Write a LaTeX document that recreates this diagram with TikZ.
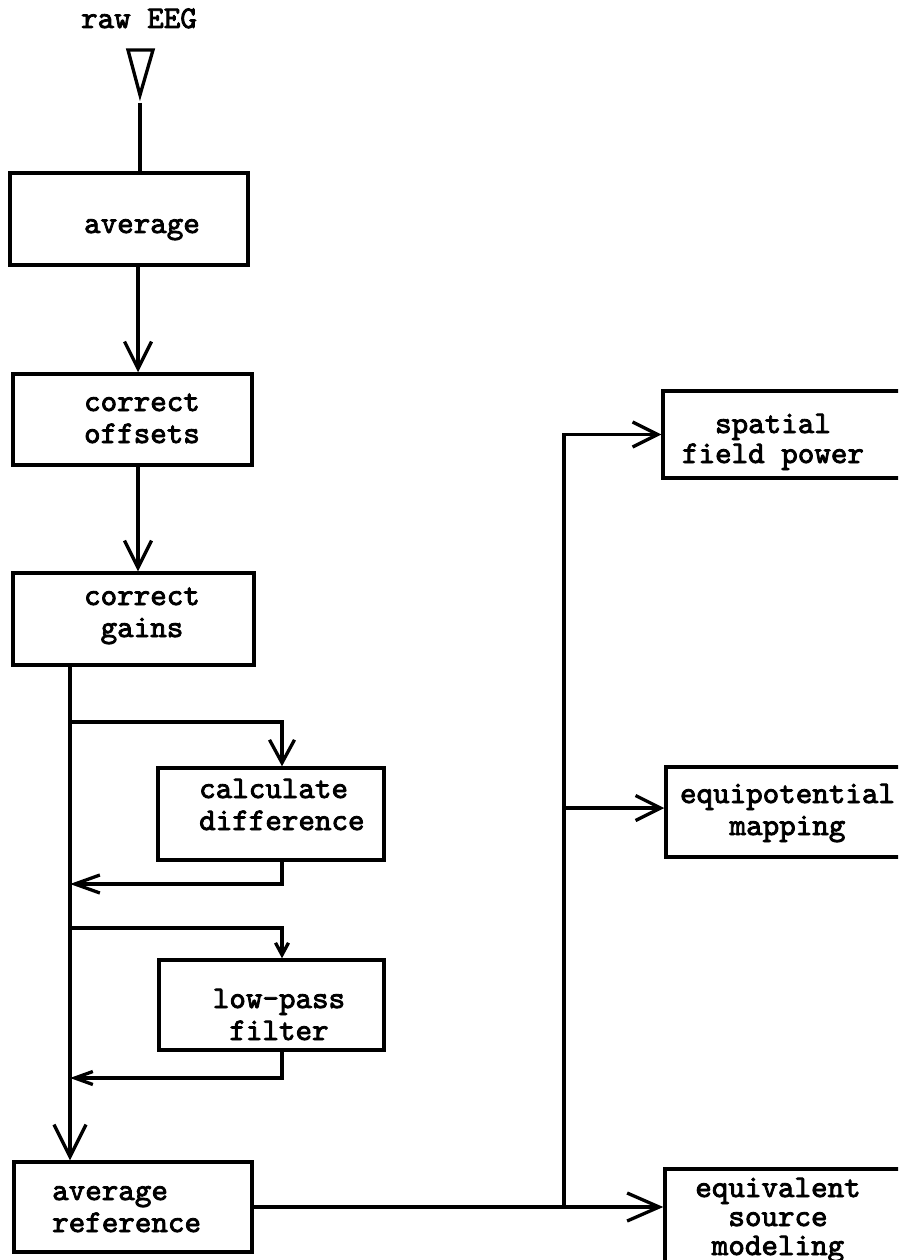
\documentclass[tikz,border=0pt]{standalone}
\usepackage{fontspec}
\newfontfamily\tw[FakeBold=2.6]{lmmono10-regular.otf}
\usetikzlibrary{arrows.meta}
\begin{document}
\begin{tikzpicture}[x=1pt,y=-1pt,
  ln/.style={line width=3.3pt},
  bx/.style={draw, line width=3.5pt, inner sep=0pt},
  tx/.style={font=\tw\fontsize{31.5}{32}\selectfont, inner sep=0pt, anchor=base},
  txn/.style={font=\tw\fontsize{31.5}{#1}\selectfont},
  arr/.style 2 args={-{Straight Barb[length=#1, width=#2]}}]
\useasboundingbox (0,0) rectangle (898,1260);
\clip (0,0) rectangle (898,1260);
% boxes
\node[bx, minimum width=238pt, minimum height=92pt] (avg) at (129,219) {};
\node[bx, minimum width=239pt, minimum height=91pt] (offs) at (132.5,419.5) {};
\node[bx, minimum width=241pt, minimum height=92pt] (gains) at (133.5,619) {};
\node[bx, minimum width=226pt, minimum height=92pt] (calc) at (271,814) {};
\node[bx, minimum width=225pt, minimum height=90pt] (lp) at (271.5,1005) {};
\node[bx, minimum width=238pt, minimum height=90pt] (avgref) at (133,1207) {};
\node[bx, minimum width=267pt, minimum height=87pt] (spatial) at (796.5,434.5) {};
\node[bx, minimum width=264pt, minimum height=90pt] (equip) at (798,812) {};
\node[bx, minimum width=265pt, minimum height=131pt] (equiv) at (797.5,1234.5) {};
% texts (anchor base = baseline of the last line)
\node[tx] (rawT) at (139,28) {raw EEG};
\node[tx] (avgT) at (142,233) {average};
\node[tx, align=center] (offsT) at (142,443) {correct\\offsets};
\node[tx, align=center] (gainsT) at (142,637) {correct\\gains};
\node[tx, align=left, anchor=base west] (calcT) at (199,830) {calculate\\difference};
\node[tx, align=center] (lpT) at (279,1040) {low-pass\\filter};
\node[tx, align=left, anchor=base west] (avgrefT) at (52,1232) {average\\reference};
\node[tx, txn=30, align=center] (spT) at (773,463) {spatial\\field power};
\node[tx, align=center] (eqT) at (787.5,835) {equipotential\\mapping};
\node[tx, txn=29, align=center] (esT) at (778,1255) {equivalent\\source\\modeling};
% input symbol
\draw[ln, line join=miter] (128,50) -- (153,50) -- (140,95) -- cycle;
\coordinate (inTop) at (140,103);
\draw[ln] (inTop) -- (inTop |- avg.north);
% junctions
\coordinate (j1) at (70,722);
\coordinate (j2) at (70,884);
\coordinate (j3) at (70,928);
\coordinate (j4) at (70,1078);
\coordinate (b1) at (564,1207);
\coordinate (b2) at (564,808);
% connectors
\draw[ln, arr={27pt}{27pt}] ([xshift=9pt]avg.south) -- ([xshift=9pt]avg.south |- offs.north);
\draw[ln, arr={27pt}{27pt}] ([xshift=5.5pt]offs.south) -- ([xshift=5.5pt]offs.south |- gains.north);
\draw[ln, arr={32pt}{32pt}] (gains.south -| j1) -- (avgref.north -| j1);
\draw[ln, arr={23pt}{25pt}] (j1) -| ([xshift=11pt]calc.north);
\draw[ln, arr={25pt}{18pt}] ([xshift=11pt]calc.south) |- (j2);
\draw[ln, arr={12pt}{13pt}] (j3) -| ([xshift=10.5pt]lp.north);
\draw[ln, arr={18pt}{13pt}] ([xshift=10.5pt]lp.south) |- (j4);
\draw[ln, arr={32pt}{28pt}] (avgref.east) -- (avgref.east -| equiv.west);
\draw[ln, arr={25pt}{25pt}] (b1) |- (spatial.west);
\draw[ln, arr={25pt}{25pt}] (b2) -- (b2 -| equip.west);
\end{tikzpicture}
\end{document}
